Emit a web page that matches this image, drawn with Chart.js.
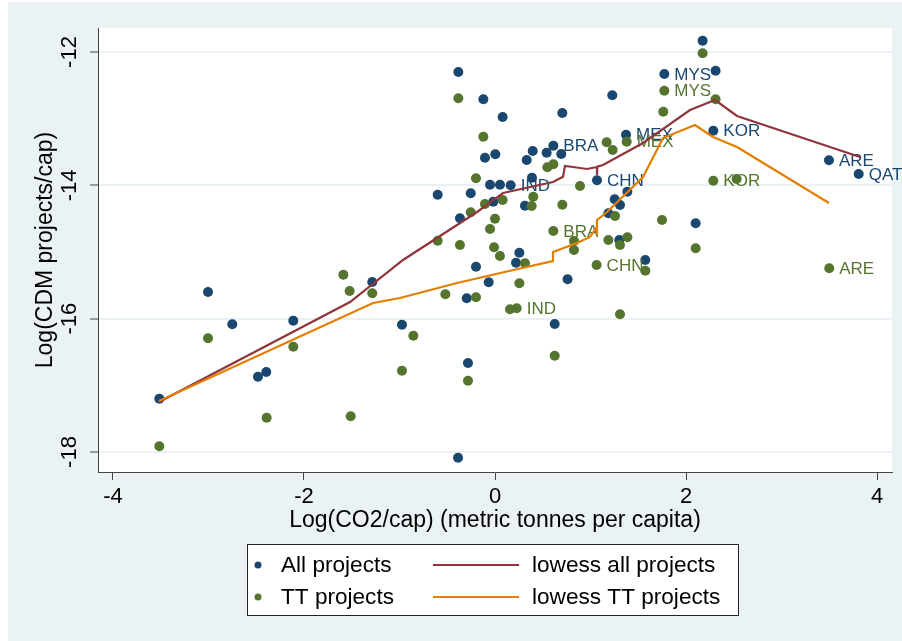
<!DOCTYPE html>
<html>
<head>
<meta charset="utf-8">
<script src="https://cdn.jsdelivr.net/npm/chart.js@4/dist/chart.umd.min.js"></script>
<style>
  html, body { margin: 0; padding: 0; background: #fff; }
  canvas { display: block; }
</style>
</head>
<body>
<canvas id="c" width="902" height="641"></canvas>
<script>
// Axis ticks
const xTicks = [-4, -2, 0, 2, 4];
const yTicks = [-18, -16, -14, -12];

// All CDM projects: log CO2 per capita (x) vs log projects per capita (y)
const allX = [-3.515, -3.005, -2.751, -2.482, -2.395, -2.112, -1.285, -0.974, -0.600, -0.387,
              -0.384, -0.367, -0.296, -0.283, -0.254, -0.199, -0.122, -0.105, -0.066, -0.052,
              -0.018, 0.003, 0.052, 0.080, 0.220, 0.255, 0.314, 0.332, 0.387, 0.395,
              0.541, 0.625, 0.694, 0.705, 0.760, 1.187, 1.228, 1.253, 1.302, 1.309,
              1.386, 1.574, 2.101, 2.174, 2.310];
const allY = [-17.20, -15.60, -16.085, -16.87, -16.80, -16.03, -15.45, -16.09, -14.14, -18.085,
              -12.30, -14.495, -15.695, -16.665, -14.12, -15.22, -12.71, -13.585, -15.455, -13.99,
              -14.245, -13.535, -13.99, -12.975, -15.16, -15.01, -14.305, -13.62, -13.885, -13.485,
              -13.51, -16.08, -13.53, -12.915, -15.41, -14.42, -12.65, -14.21, -14.82, -14.295,
              -14.095, -15.12, -14.57, -11.83, -12.28];
// Labelled countries, all projects
const allCodes = ['IND', 'BRA', 'CHN', 'MEX', 'MYS', 'KOR', 'ARE', 'QAT'];
const allCodeX = [0.164, 0.611, 1.068, 1.372, 1.773, 2.286, 3.497, 3.808];
const allCodeY = [-14.00, -13.405, -13.925, -13.24, -12.33, -13.18, -13.625, -13.83];

// Technology-transfer (TT) projects
const ttX = [-3.515, -3.005, -2.391, -2.112, -1.588, -1.522, -1.511, -1.285, -0.974, -0.855,
             -0.600, -0.520, -0.384, -0.367, -0.283, -0.254, -0.199, -0.199, -0.122, -0.105,
             -0.052, -0.010, 0.000, 0.052, 0.080, 0.157, 0.255, 0.314, 0.384, 0.401,
             0.548, 0.611, 0.625, 0.705, 0.827, 0.827, 0.890, 1.169, 1.187, 1.232,
             1.257, 1.309, 1.309, 1.386, 1.574, 1.749, 1.762, 2.101, 2.174, 2.310, 2.530];
const ttY = [-17.915, -16.295, -17.485, -16.42, -15.34, -15.585, -17.465, -15.62, -16.78, -16.255,
             -14.83, -15.635, -12.695, -14.895, -16.93, -14.405, -13.895, -15.68, -13.27, -14.28,
             -14.655, -14.93, -14.50, -15.06, -14.22, -15.86, -15.47, -15.17, -14.31, -14.17,
             -13.73, -13.685, -16.555, -14.29, -14.835, -14.97, -14.01, -13.355, -14.82, -13.47,
             -14.46, -14.895, -15.935, -14.78, -15.28, -14.52, -12.895, -14.945, -12.02, -12.71, -13.905];
// Labelled countries, TT projects
const ttCodes = ['IND', 'BRA', 'CHN', 'MEX', 'MYS', 'KOR', 'ARE'];
const ttCodeX = [0.227, 0.611, 1.064, 1.379, 1.773, 2.286, 3.500];
const ttCodeY = [-15.845, -14.685, -15.195, -13.345, -12.58, -13.93, -15.245];

// Lowess smooths
const lowessAllX = [-3.518, -1.518, -0.963, -0.188, 0.084, 0.607, 0.712, 0.733, 0.817, 0.963,
                    1.068, 1.068, 1.072, 1.131, 1.550, 2.042, 2.304, 2.534, 3.822];
const lowessAllY = [-17.25, -15.75, -15.12, -14.40, -14.115, -13.95, -13.87, -13.71, -13.725, -13.755,
                    -13.725, -13.845, -13.72, -13.695, -13.365, -12.87, -12.72, -12.96, -13.575];
const lowessTTX = [-3.518, -1.277, -0.995, -0.398, 0.283, 0.607, 0.607, 0.859, 0.995, 1.068,
                   1.068, 1.068, 1.173, 1.550, 1.759, 2.042, 2.094, 2.283, 2.534, 3.497];
const lowessTTY = [-17.235, -15.765, -15.69, -15.465, -15.24, -15.135, -15.00, -14.865, -14.775, -14.62,
                   -14.745, -14.52, -14.40, -13.875, -13.29, -13.125, -13.095, -13.275, -13.425, -14.265];

const NAVY = '#1a476f', GREEN = '#55752f', MAROON = '#90353b', ORANGE = '#e37e00';
const BG = '#eaf2f3';
const FONT = "'Liberation Sans', Arial, Helvetica, sans-serif";
Chart.defaults.font.family = FONT;

const pts = (xs, ys) => xs.map((x, i) => ({ x: x, y: ys[i] }));

// Page background, plot region fill
const backdrop = {
  id: 'backdrop',
  beforeDraw(chart) {
    const { ctx, chartArea: a } = chart;
    ctx.save();
    ctx.fillStyle = '#ffffff';
    ctx.fillRect(0, 0, chart.width, chart.height);
    ctx.fillStyle = BG;
    ctx.fillRect(8, 2, chart.width - 8, chart.height - 2);
    ctx.fillStyle = '#ffffff';
    ctx.fillRect(a.left, a.top, a.right - a.left, a.bottom - a.top);
    ctx.restore();
  }
};

// Country codes beside their markers
const countryLabels = {
  id: 'countryLabels',
  afterDatasetDraw(chart, args) {
    let codes, xs, ys, color;
    if (args.index === 0) { codes = allCodes; xs = allCodeX; ys = allCodeY; color = NAVY; }
    else if (args.index === 1) { codes = ttCodes; xs = ttCodeX; ys = ttCodeY; color = GREEN; }
    else return;
    const { ctx, scales: { x, y } } = chart;
    ctx.save();
    ctx.font = '17px ' + FONT;
    ctx.fillStyle = color;
    ctx.textAlign = 'left';
    ctx.textBaseline = 'middle';
    codes.forEach((c, i) => {
      ctx.fillText(c, x.getPixelForValue(xs[i]) + 10, y.getPixelForValue(ys[i]) + 1);
    });
    ctx.restore();
  }
};

// Two-column key below the axes
const keyBox = {
  id: 'keyBox',
  afterDraw(chart) {
    const ctx = chart.ctx;
    const items = chart.data.datasets;
    ctx.save();
    ctx.fillStyle = '#ffffff';
    ctx.fillRect(247, 544, 492, 72);
    ctx.strokeStyle = '#222';
    ctx.lineWidth = 1;
    ctx.strokeRect(247.5, 544.5, 491, 71);
    ctx.font = '22.6px ' + FONT;
    ctx.textBaseline = 'middle';
    ctx.textAlign = 'left';
    const rows = [565, 597];
    [0, 1].forEach(r => {
      const pt = items[r];
      ctx.fillStyle = pt.backgroundColor;
      ctx.beginPath();
      ctx.arc(258, rows[r], 3.5, 0, Math.PI * 2);
      ctx.fill();
      ctx.fillStyle = '#000';
      ctx.fillText(pt.label, 281, rows[r] + 1);
      const ln = items[r + 2];
      ctx.strokeStyle = ln.borderColor;
      ctx.lineWidth = 2;
      ctx.beginPath();
      ctx.moveTo(433, rows[r]);
      ctx.lineTo(519, rows[r]);
      ctx.stroke();
      ctx.fillStyle = '#000';
      ctx.fillText(ln.label, 532, rows[r] + 1);
    });
    ctx.restore();
  }
};

new Chart(document.getElementById('c'), {
  type: 'scatter',
  data: {
    datasets: [
      { label: 'All projects', data: pts(allX.concat(allCodeX), allY.concat(allCodeY)),
        backgroundColor: NAVY, borderColor: NAVY, pointRadius: 5, pointBorderWidth: 0, order: 3 },
      { label: 'TT projects', data: pts(ttX.concat(ttCodeX), ttY.concat(ttCodeY)),
        backgroundColor: GREEN, borderColor: GREEN, pointRadius: 5, pointBorderWidth: 0, order: 2 },
      { label: 'lowess all projects', data: pts(lowessAllX, lowessAllY), showLine: true,
        borderColor: MAROON, backgroundColor: MAROON, borderWidth: 2.2, pointRadius: 0, fill: false, tension: 0, order: 1 },
      { label: 'lowess TT projects', data: pts(lowessTTX, lowessTTY), showLine: true,
        borderColor: ORANGE, backgroundColor: ORANGE, borderWidth: 2.2, pointRadius: 0, fill: false, tension: 0, order: 0 }
    ]
  },
  options: {
    responsive: false,
    animation: false,
    events: [],
    layout: { padding: { left: 32, right: 10, top: 28, bottom: 107 } },
    plugins: { legend: { display: false }, tooltip: { enabled: false } },
    scales: {
      x: {
        type: 'linear', min: -4.157, max: 4.157,
        afterBuildTicks: s => { s.ticks = xTicks.map(v => ({ value: v })); },
        afterFit: s => { s.height = 62; },
        grid: { drawOnChartArea: false, drawTicks: true, tickLength: 8, tickColor: '#444', tickWidth: 1 },
        border: { display: true, color: '#444', width: 1 },
        ticks: { color: '#000', font: { size: 22 }, padding: 4, minRotation: 0, maxRotation: 0,
                 callback: v => String(v) },
        title: { display: true, text: 'Log(CO2/cap) (metric tonnes per capita)', color: '#000',
                 font: { size: 23 }, padding: 0 }
      },
      y: {
        type: 'linear', min: -18.3, max: -11.64,
        afterBuildTicks: s => { s.ticks = yTicks.map(v => ({ value: v })); },
        afterFit: s => { s.width = 66; },
        grid: { color: BG, lineWidth: 2, drawTicks: true, tickLength: 8, tickColor: '#444', tickWidth: 1 },
        border: { display: true, color: '#444', width: 1 },
        ticks: { color: '#000', font: { size: 22 }, padding: 4, minRotation: 90, maxRotation: 90,
                 crossAlign: 'center', callback: v => String(v) },
        title: { display: true, text: 'Log(CDM projects/cap)', color: '#000', font: { size: 23 }, padding: 0 }
      }
    }
  },
  plugins: [backdrop, countryLabels, keyBox]
});
</script>
</body>
</html>
